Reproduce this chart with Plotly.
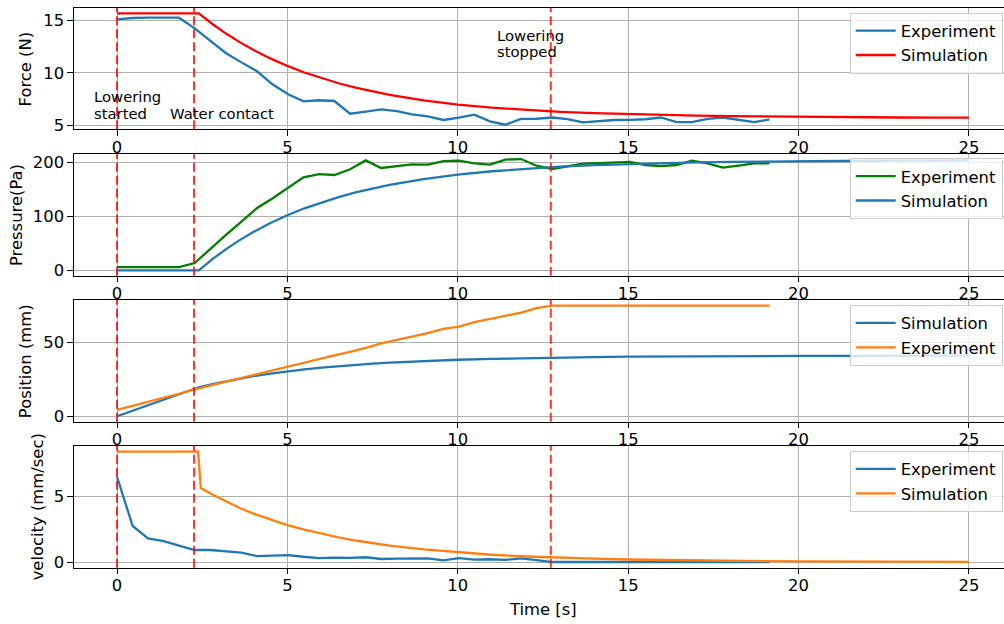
import plotly.graph_objects as go

# ---- experiment samples (common time base, seconds) ----
t_exp = [0.00, 0.46, 0.91, 1.37, 1.82, 2.28, 2.74, 3.19, 3.65, 4.10, 4.56, 5.02,
         5.47, 5.93, 6.38, 6.84, 7.30, 7.75, 8.21, 8.66, 9.12, 9.58, 10.03, 10.49,
         10.94, 11.40, 11.86, 12.31, 12.77, 13.22, 13.68, 14.14, 14.59, 15.05, 15.50,
         15.96, 16.42, 16.87, 17.33, 17.78, 18.24, 18.70, 19.15]

force_exp = [15.12, 15.25, 15.28, 15.28, 15.28, 14.26, 13.10, 11.90, 11.00, 10.17, 8.90, 7.94,
             7.27, 7.37, 7.30, 6.08, 6.28, 6.50, 6.32, 6.02, 5.82, 5.48, 5.70, 5.99,
             5.35, 5.03, 5.58, 5.60, 5.72, 5.57, 5.26, 5.38, 5.48, 5.50, 5.55,
             5.72, 5.27, 5.27, 5.58, 5.72, 5.48, 5.27, 5.53]

pressure_exp = [6.0, 6.0, 6.0, 6.0, 6.0, 13.5, 40.0, 65.0, 90.0, 114.8, 133.0, 152.0,
                172.0, 178.0, 176.5, 187.0, 203.5, 189.5, 193.0, 196.0, 195.6, 202.0, 203.0, 198.0,
                195.6, 205.0, 206.0, 193.7, 187.6, 192.0, 197.4, 198.5, 199.5, 200.6, 195.0,
                193.0, 195.0, 203.0, 198.0, 190.0, 193.7, 198.0, 198.0]

position_exp = [4.3, 7.0, 9.5, 12.3, 15.3, 18.3, 20.9, 23.6, 26.3, 28.9, 31.0, 33.7,
                36.4, 38.9, 41.4, 43.8, 46.4, 49.5, 51.8, 54.1, 56.5, 59.3, 60.9, 63.9,
                66.1, 68.3, 70.4, 73.5, 75.1, 75.1, 75.1, 75.1, 75.1, 75.1, 75.1,
                75.1, 75.1, 75.1, 75.1, 75.1, 75.1, 75.1, 75.1]

velocity_exp = [6.46, 2.73, 1.79, 1.59, 1.24, 0.91, 0.91, 0.80, 0.71, 0.45, 0.50, 0.53,
                0.40, 0.30, 0.34, 0.32, 0.36, 0.23, 0.26, 0.26, 0.28, 0.13, 0.30, 0.18,
                0.21, 0.16, 0.28, 0.15, 0.00, 0.00, 0.00, 0.00, 0.00, 0.00, 0.00,
                0.00, 0.00, 0.00, 0.00, 0.00, 0.00, 0.00, 0.00]

# ---- simulation output ----
t_sim = [0, 2.4, 2.8, 3.2, 3.6, 4.0, 4.5, 5, 5.5, 6, 6.5, 7, 7.5, 8, 9, 10, 11, 12,
         13, 14, 15, 16, 17, 18, 19, 20, 21, 22, 23, 24, 25]

force_sim = [15.70, 15.70, 14.68, 13.76, 12.94, 12.20, 11.38, 10.66, 10.03, 9.48, 9.00, 8.58,
             8.20, 7.88, 7.35, 6.96, 6.66, 6.43, 6.26, 6.13, 6.03, 5.96, 5.90, 5.85,
             5.81, 5.78, 5.76, 5.74, 5.72, 5.71, 5.70]

pressure_sim = [0.0, 0.0, 20.6, 39.2, 55.9, 70.8, 87.5, 102.0, 114.8, 125.9, 135.6, 144.2,
                151.6, 158.2, 168.9, 177.1, 183.4, 188.2, 191.9, 194.8, 196.9, 198.6, 199.8, 200.8,
                201.6, 202.2, 202.6, 202.9, 203.2, 203.4, 203.5]

position_sim = [0.0, 19.7, 21.9, 23.8, 25.6, 27.2, 28.9, 30.45, 31.8, 33.0, 34.0, 34.9,
                35.7, 36.4, 37.5, 38.4, 39.0, 39.5, 39.9, 40.2, 40.45, 40.65, 40.8, 40.9,
                40.95, 41.0, 41.05, 41.1, 41.1, 41.15, 41.15]

t_vel_sim = [0, 2.38, 2.42, 2.46, 2.8, 3.2, 3.6, 4.0, 4.5, 5, 5.5, 6, 6.5, 7, 7.5, 8, 9,
             10, 11, 12, 13, 14, 15, 16, 17, 18, 19, 20, 21, 22, 23, 24, 25]

velocity_sim = [8.36, 8.36, 7.00, 5.60, 5.11, 4.57, 4.09, 3.67, 3.21, 2.80, 2.45, 2.14, 1.87,
                1.63, 1.43, 1.25, 0.95, 0.73, 0.55, 0.42, 0.32, 0.25, 0.19, 0.145, 0.11,
                0.084, 0.064, 0.049, 0.037, 0.029, 0.022, 0.017, 0.013]

# event markers: lowering started, water contact, lowering stopped
event_times = [0.0, 2.26, 12.73]

# ---- tick values per panel ----
x_ticks = [0, 5, 10, 15, 20, 25]
force_ticks = [5, 10, 15]
pressure_ticks = [0, 100, 200]
position_ticks = [0, 50]
velocity_ticks = [0, 5]

BLUE = "#1f77b4"
ORANGE = "#ff7f0e"
GREEN = "#008000"
RED = "#ff0000"
FONT = "DejaVu Sans"
FS = 16.4
LW = 2.3

W, H = 1004, 624
ML, MR, MT, MB = 74, 0, 8, 56
PH = H - MT - MB
PW = W - ML - MR


def ydom(top_px, bottom_px):
    return [(H - MB - bottom_px) / PH, (H - MB - top_px) / PH]


def ypaper(px):
    return (H - MB - px) / PH


def xpaper(px):
    return (px - ML) / PW


panels = [
    dict(dom=ydom(8, 129.3), rng=[4.588, 16.21], ticks=force_ticks, title="Force (N)", tx=25.8, leg_top=12.5),
    dict(dom=ydom(154.3, 275.7), rng=[-10.0, 214.8], ticks=pressure_ticks, title="Pressure(Pa)", tx=17.0, leg_top=158.0),
    dict(dom=ydom(300, 421.7), rng=[-3.67, 78.95], ticks=position_ticks, title="Position (mm)", tx=26.3, leg_top=304.8),
    dict(dom=ydom(446, 567.7), rng=[-0.43, 8.79], ticks=velocity_ticks, title="velocity (mm/sec)", tx=37.5, leg_top=450.8),
]

series = [
    [("Experiment", t_exp, force_exp, BLUE), ("Simulation", t_sim, force_sim, RED)],
    [("Experiment", t_exp, pressure_exp, GREEN), ("Simulation", t_sim, pressure_sim, BLUE)],
    [("Simulation", t_sim, position_sim, BLUE), ("Experiment", t_exp, position_exp, ORANGE)],
    [("Experiment", t_exp, velocity_exp, BLUE), ("Simulation", t_vel_sim, velocity_sim, ORANGE)],
]

fig = go.Figure()
layout = dict(
    width=W, height=H,
    margin=dict(l=ML, r=MR, t=MT, b=MB, pad=0),
    paper_bgcolor="white", plot_bgcolor="white",
    font=dict(family=FONT, size=FS, color="black"),
    showlegend=True,
)

shapes = []
annotations = []

for i, (p, ser) in enumerate(zip(panels, series)):
    n = i + 1
    sfx = "" if n == 1 else str(n)
    leg = "legend" if n == 1 else f"legend{n}"
    for name, xs, ys, col in ser:
        fig.add_trace(go.Scatter(
            x=xs, y=ys, mode="lines", name=name,
            line=dict(color=col, width=LW),
            xaxis=f"x{sfx}", yaxis=f"y{sfx}", legend=leg,
        ))
    layout[f"xaxis{sfx}"] = dict(
        domain=[0, 1], anchor=f"y{sfx}", range=[-1.262, 26.03],
        tickvals=x_ticks, ticktext=[str(v) for v in x_ticks],
        showgrid=True, gridcolor="#b0b0b0", gridwidth=1.1,
        zeroline=False, showline=True, mirror=True, linecolor="black", linewidth=1.2,
        ticks="outside", ticklen=5.5, tickwidth=1.2, tickcolor="black",
        ticklabelstandoff=-3,
        tickfont=dict(family=FONT, size=FS, color="black"),
    )
    layout[f"yaxis{sfx}"] = dict(
        domain=p["dom"], anchor=f"x{sfx}", range=p["rng"],
        tickvals=p["ticks"], ticktext=[str(v) for v in p["ticks"]],
        showgrid=True, gridcolor="#b0b0b0", gridwidth=1.1,
        zeroline=False, showline=True, mirror=False, linecolor="black", linewidth=1.2,
        ticks="outside", ticklen=5.5, tickwidth=1.2, tickcolor="black",
        tickfont=dict(family=FONT, size=FS, color="black"),
    )
    layout[leg] = dict(
        x=xpaper(1002.7), y=ypaper(p["leg_top"]), xanchor="right", yanchor="top",
        bgcolor="rgba(255,255,255,0.8)", bordercolor="#cccccc", borderwidth=1,
        font=dict(family=FONT, size=FS, color="black"),
        traceorder="normal", itemwidth=40,
    )
    for te in event_times:
        shapes.append(dict(
            type="line", xref=f"x{sfx}", yref=f"y{sfx} domain",
            x0=te, x1=te, y0=0, y1=1, layer="above",
            line=dict(color="rgba(255,0,0,0.8)", width=2, dash="9px,4px"),
        ))
    annotations.append(dict(
        text=p["title"], xref="paper", yref=f"y{sfx} domain",
        x=xpaper(p["tx"]), y=0.5, xanchor="center", yanchor="middle",
        textangle=-90, showarrow=False,
        font=dict(family=FONT, size=FS, color="black"),
    ))

# event labels on the force panel
AFS = 14.8
for txt, xv, yv in [("Lowering", -0.742, 7.72), ("started", -0.742, 6.13),
                    ("Water contact", 1.496, 6.13),
                    ("Lowering", 11.09, 13.62), ("stopped", 11.09, 12.03)]:
    annotations.append(dict(
        text=txt, xref="x", yref="y", x=xv, y=yv,
        xanchor="left", yanchor="middle", showarrow=False,
        font=dict(family=FONT, size=AFS, color="black"),
    ))

annotations.append(dict(
    text="Time [s]", xref="paper", yref="paper",
    x=xpaper(543), y=ypaper(609), xanchor="center", yanchor="middle",
    showarrow=False, font=dict(family=FONT, size=FS, color="black"),
))

layout["shapes"] = shapes
layout["annotations"] = annotations
fig.update_layout(**layout)

fig.write_html("out.html")
